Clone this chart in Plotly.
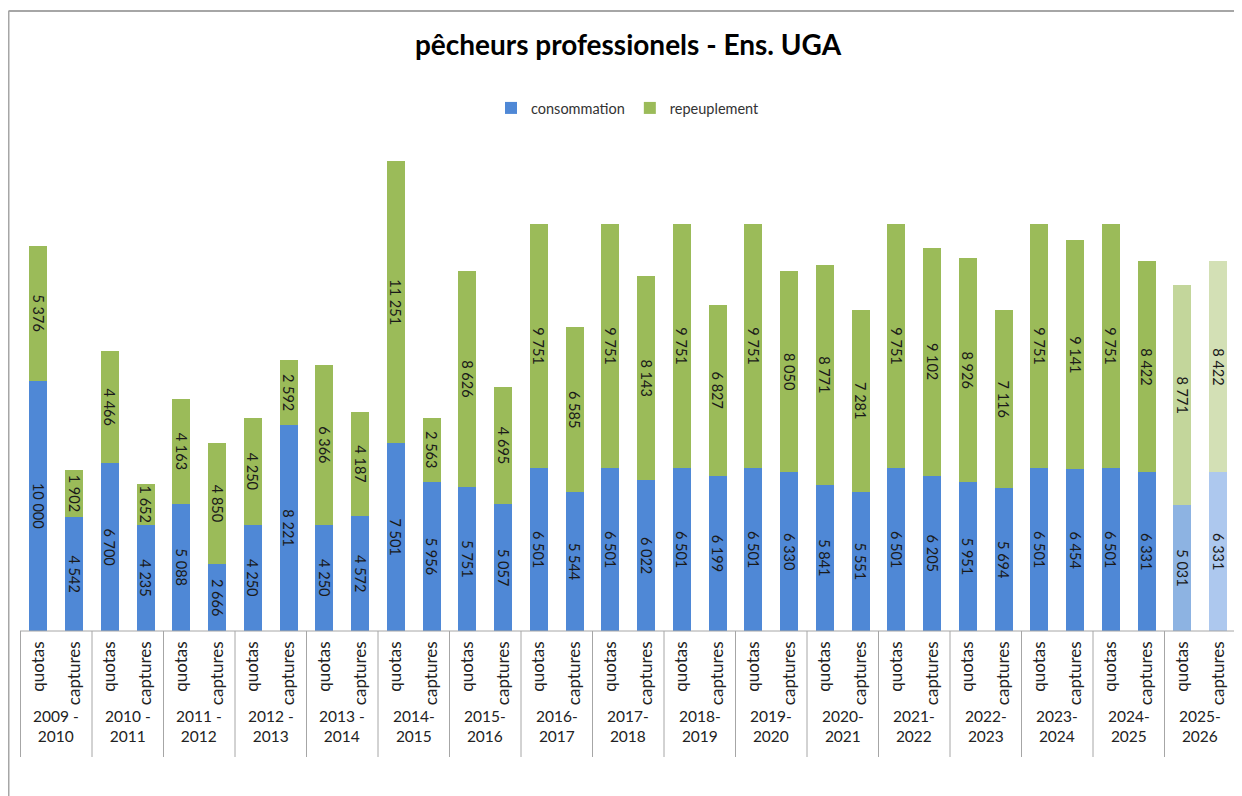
import plotly.graph_objects as go

seasons = ["2009 -<br>2010", "2010 -<br>2011", "2011 -<br>2012", "2012 -<br>2013",
           "2013 -<br>2014", "2014-<br>2015", "2015-<br>2016", "2016-<br>2017",
           "2017-<br>2018", "2018-<br>2019", "2019-<br>2020", "2020-<br>2021",
           "2021-<br>2022", "2022-<br>2023", "2023-<br>2024", "2024-<br>2025",
           "2025-<br>2026"]
kinds = ["quotas", "captures"]

quotas_conso = [10000, 6700, 5088, 4250, 4250, 7501, 5751, 6501, 6501, 6501, 6501, 5841, 6501, 5951, 6501, 6501, 5031]
quotas_repeu = [5376, 4466, 4163, 4250, 6366, 11251, 8626, 9751, 9751, 9751, 9751, 8771, 9751, 8926, 9751, 9751, 8771]
capt_conso = [4542, 4235, 2666, 8221, 4572, 5956, 5057, 5544, 6022, 6199, 6330, 5551, 6205, 5694, 6454, 6331, 6331]
capt_repeu = [1902, 1652, 4850, 2592, 4187, 2563, 4695, 6585, 8143, 6827, 8050, 7281, 9102, 7116, 9141, 8422, 8422]

cats, cat_text, conso, repeu = [], [], [], []
for i, s in enumerate(seasons):
    for k in kinds:
        cats.append(f"{s}|{k}")
        cat_text.append(k)
    conso += [quotas_conso[i], capt_conso[i]]
    repeu += [quotas_repeu[i], capt_repeu[i]]

n = len(conso)
blue, green = "#4F88D6", "#9BBB59"
blue_cols = [blue] * (n - 2) + ["#8DB3E2", "#ADC8EE"]
green_cols = [green] * (n - 2) + ["#C3D69B", "#D3E0B5"]

def fmt(v):
    return f"{v:,}".replace(",", " ")

FONT = "Lato, 'Open Sans', sans-serif"
GRID = "#A6A6A6"

# page has an 8px body margin: figure size and margins compensate for it
W, H = 1234, 788
L, T = 12, 122
PW, PH = 1216, 501
BASE = T + PH  # baseline y in figure pixels

def py(yfig):
    return (BASE - yfig) / PH

fig = go.Figure()
fig.add_trace(go.Bar(
    x=cats, y=conso, name="consommation",
    marker=dict(color=blue_cols, line=dict(width=0)),
    text=[fmt(v) for v in conso], textposition="inside", insidetextanchor="middle",
    textangle=90, textfont=dict(size=14.5, color="#1a1a1a", family=FONT),
    constraintext="none", cliponaxis=False,
))
fig.add_trace(go.Bar(
    x=cats, y=repeu, name="repeuplement",
    marker=dict(color=green_cols, line=dict(width=0)),
    text=[fmt(v) for v in repeu], textposition="inside", insidetextanchor="middle",
    textangle=90, textfont=dict(size=14.5, color="#1a1a1a", family=FONT),
    constraintext="none", cliponaxis=False,
))

fig.update_layout(
    width=W, height=H,
    barmode="stack", bargap=0.5,
    paper_bgcolor="white", plot_bgcolor="white",
    margin=dict(l=L, r=W - L - PW, t=T, b=H - T - PH, autoexpand=False),
    font=dict(family=FONT, color="#222222", size=16),
    title=dict(text="<b>pêcheurs professionels - Ens. UGA</b>", x=0.5, xref="paper",
               xanchor="center", y=1 - 37 / H, yanchor="middle",
               font=dict(size=28, color="#000000", family=FONT)),
    legend=dict(orientation="h", x=0.5, xanchor="center", y=py(100),
                yanchor="middle", font=dict(size=14.5, color="#333333"),
                itemwidth=30, traceorder="normal"),
    showlegend=True,
)
fig.update_xaxes(
    type="category", categoryorder="array", categoryarray=cats,
    tickmode="array", tickvals=cats, ticktext=cat_text,
    showline=False, tickangle=-90, tickfont=dict(size=17, color="#222222"),
    ticks="", ticklabelstandoff=6, showgrid=False, zeroline=False,
)
fig.update_yaxes(range=[0, 20000], visible=False, showgrid=False)

# category axis line
fig.add_shape(type="line", xref="paper", yref="paper", x0=0, x1=(W - L) / PW,
              y0=0, y1=0, line=dict(color=GRID, width=1))
# season group dividers and labels
for i, s in enumerate(seasons):
    fig.add_shape(type="line", xref="x", yref="paper", x0=2 * i - 0.5, x1=2 * i - 0.5,
                  y0=0, y1=py(749), line=dict(color=GRID, width=1))
    fig.add_annotation(x=2 * i + 0.5, xref="x", y=py(718), yref="paper",
                       text=s, showarrow=False, xanchor="center", yanchor="middle",
                       font=dict(size=15.5, color="#222222", family=FONT))

# outer frame of the chart area (top and left edges)
ytop = py(3)
xleft = (0.5 - L) / PW
fig.add_shape(type="line", xref="paper", yref="paper",
              x0=xleft, x1=(W + 10 - L) / PW, y0=ytop, y1=ytop,
              line=dict(color=GRID, width=2))
fig.add_shape(type="line", xref="paper", yref="paper",
              x0=xleft, x1=xleft, y0=ytop, y1=py(H + 10),
              line=dict(color=GRID, width=2))

fig.write_html("out.html")
